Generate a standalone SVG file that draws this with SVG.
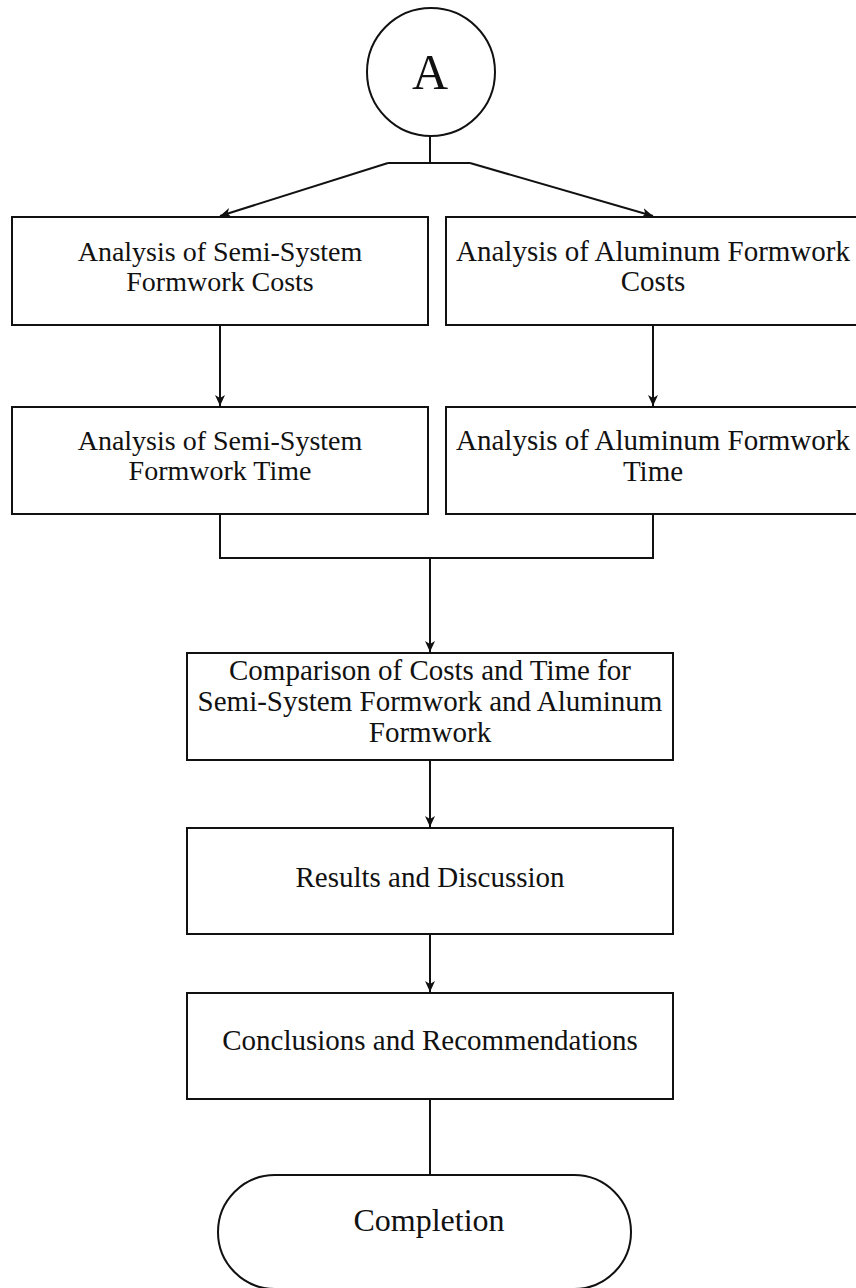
<svg xmlns="http://www.w3.org/2000/svg" width="856" height="1288" viewBox="0 0 856 1288">
<style>
.box{fill:#fff;stroke:#111;stroke-width:2}
.ln{fill:none;stroke:#111;stroke-width:2}
.t{font-family:"Liberation Serif","Times New Roman",serif;font-size:29px;fill:#111;text-anchor:middle}
.s{font-size:28px}
</style>
<defs>
<marker id="ah" viewBox="0 0 12 12" refX="11" refY="6" markerWidth="12" markerHeight="12" markerUnits="userSpaceOnUse" orient="auto">
<path d="M0,1 L11,6 L0,11 L3,6 Z" fill="#111"/>
</marker>
</defs>
<rect width="856" height="1288" fill="#fff"/>
<g id="connectors">
<path class="ln" d="M430,136 V163"/>
<path class="ln" d="M388,163 H470"/>
<path class="ln" d="M388,163 L220,216" marker-end="url(#ah)"/>
<path class="ln" d="M470,163 L653,216" marker-end="url(#ah)"/>
<path class="ln" d="M220,325 V406" marker-end="url(#ah)"/>
<path class="ln" d="M653,325 V406" marker-end="url(#ah)"/>
<path class="ln" d="M220,514 V558 H653 V514"/>
<path class="ln" d="M430,558 V652" marker-end="url(#ah)"/>
<path class="ln" d="M430,760 V827" marker-end="url(#ah)"/>
<path class="ln" d="M430,934 V992" marker-end="url(#ah)"/>
<path class="ln" d="M430,1099 V1175"/>
</g>
<g id="nodeA">
<circle cx="431" cy="72" r="64" fill="#fff" stroke="#111" stroke-width="2"/>
<text x="430" y="89" class="t" style="font-size:50px">A</text>
</g>
<g id="semiCosts">
<rect class="box" x="12" y="217" width="416" height="108"/>
<text class="t s" x="220" y="261">Analysis of Semi-System</text>
<text class="t s" x="220" y="291">Formwork Costs</text>
</g>
<g id="aluCosts">
<rect class="box" x="446" y="217" width="416" height="108"/>
<text class="t" x="653" y="261">Analysis of Aluminum Formwork</text>
<text class="t" x="653" y="291">Costs</text>
</g>
<g id="semiTime">
<rect class="box" x="12" y="407" width="416" height="107"/>
<text class="t s" x="220" y="450">Analysis of Semi-System</text>
<text class="t s" x="220" y="480">Formwork Time</text>
</g>
<g id="aluTime">
<rect class="box" x="446" y="407" width="416" height="107"/>
<text class="t" x="653" y="450">Analysis of Aluminum Formwork</text>
<text class="t" x="653" y="481">Time</text>
</g>
<g id="comparison">
<rect class="box" x="187" y="653" width="486" height="107"/>
<text class="t" x="430" y="680">Comparison of Costs and Time for</text>
<text class="t" x="430" y="711">Semi-System Formwork and Aluminum</text>
<text class="t" x="430" y="742">Formwork</text>
</g>
<g id="results">
<rect class="box" x="187" y="828" width="486" height="106"/>
<text class="t" x="430" y="887">Results and Discussion</text>
</g>
<g id="conclusions">
<rect class="box" x="187" y="993" width="486" height="106"/>
<text class="t" x="430" y="1050">Conclusions and Recommendations</text>
</g>
<g id="completion">
<rect class="box" x="218" y="1175" width="413" height="114" rx="57" ry="57"/>
<text class="t" x="429" y="1231" style="font-size:32px">Completion</text>
</g>
</svg>
